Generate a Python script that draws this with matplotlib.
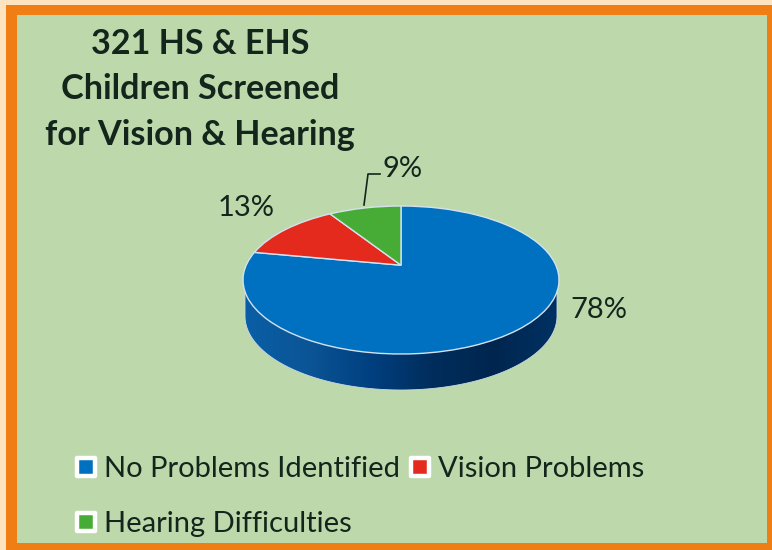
import numpy as np
import matplotlib
matplotlib.use('Agg')
import matplotlib.pyplot as plt
from matplotlib.colors import LinearSegmentedColormap
from matplotlib.lines import Line2D
from matplotlib.markers import MarkerStyle
from matplotlib.patches import Polygon, Rectangle
from matplotlib.path import Path
from matplotlib.transforms import Affine2D, Transform

title_lines = ['321 HS & EHS', 'Children Screened', 'for Vision & Hearing']
categories = ['No Problems Identified', 'Vision Problems', 'Hearing Difficulties']
values = [78, 13, 9]
colors = ['#0070C0', '#E32A1C', '#46AC36']

plt.rcParams['font.family'] = ['Lato', 'DejaVu Sans']
text_color = '#14261C'


class Perspective(Transform):
    # moves the pie's apex up inside the unit circle, like a tilted 3d pie
    input_dims = 2
    output_dims = 2

    def __init__(self, k):
        super().__init__()
        self.k = k

    def transform_non_affine(self, values):
        x, y = values[:, 0], values[:, 1]
        d = 1 + self.k * y
        return np.column_stack([x * np.sqrt(1 - self.k ** 2) / d, (y + self.k) / d])

    def transform_path_non_affine(self, path):
        return Path(self.transform_non_affine(path.vertices), path.codes)


fig = plt.figure(figsize=(7.72, 5.5), dpi=100, facecolor='#FDE3BE')
ax = fig.add_axes([0, 0, 1, 1])

# side of the pie
cx, cy, rx, ry = 401, 280, 158, 74
depth = 36
t = np.linspace(0, np.pi, 200)
side_x = cx + (rx - 2) * np.cos(t)
side_y = cy + depth + ry * np.sin(t)
side_pts = np.column_stack([np.r_[side_x, cx - rx + 2, cx + rx - 2], np.r_[side_y, cy, cy]])
side_cmap = LinearSegmentedColormap.from_list(
    'side', ['#0A5EA6', '#0B5596', '#004080', '#002D5C', '#00264F', '#003163'])

pie_tf = Perspective(0.2) + Affine2D().scale(rx, -ry).translate(cx, cy) + ax.transData
wedges, _ = ax.pie(values, colors=colors, startangle=90, counterclock=False,
                   wedgeprops={'edgecolor': '#D5E2EE', 'linewidth': 1.0})
for w in wedges:
    w.set_transform(pie_tf)
    w.set_zorder(4)

ax.set_aspect('auto')
ax.add_patch(Rectangle((6, 5), 772, 550, fc='#EF7F14', ec='none', zorder=0))
ax.add_patch(Rectangle((17, 15), 750, 528, fc='#BDD9AC', ec='none', zorder=1))

img = ax.imshow(np.linspace(0, 1, 256).reshape(1, -1), cmap=side_cmap, aspect='auto',
                extent=(cx - rx + 2, cx + rx - 2, cy + depth + ry, cy), zorder=2)
side_patch = Polygon(side_pts, closed=True, fc='none', ec='#C9D8E4', lw=0.6,
                     transform=ax.transData, zorder=3)
ax.add_patch(side_patch)
img.set_clip_path(side_patch)

ax.set_xlim(0, 772)
ax.set_ylim(550, 0)
ax.axis('off')

for line, y in zip(title_lines, [44, 89, 135]):
    ax.text(200, y, line, fontsize=24.6, fontweight='bold', color=text_color,
            ha='center', va='center', zorder=6)

ax.text(403, 169, '9%', fontsize=21, color=text_color, ha='center', va='center', zorder=6)
ax.text(246, 208, '13%', fontsize=21, color=text_color, ha='center', va='center', zorder=6)
ax.text(599, 310, '78%', fontsize=21, color=text_color, ha='center', va='center', zorder=6)
ax.plot([364, 368, 380], [205, 174, 174], color=text_color, lw=1.2, zorder=6)


def key(c):
    m = MarkerStyle('s', joinstyle='round')
    return Line2D([], [], ls='none', marker=m, ms=12.5, mfc=c, mec='white', mew=3.2)


handles = [key(colors[0]), key(colors[2]), key(colors[1])]
labels = [categories[0], categories[2], categories[1]]
leg = ax.legend(handles, labels, ncol=2, frameon=False, fontsize=21, labelcolor=text_color,
                loc='upper left', bbox_to_anchor=(71.4, 456), bbox_transform=ax.transData,
                handlelength=1.0, handletextpad=0.125, columnspacing=0.18, labelspacing=1.0,
                borderpad=0, borderaxespad=0)
leg.set_zorder(6)

fig.savefig('out.png', dpi=100, facecolor=fig.get_facecolor())
